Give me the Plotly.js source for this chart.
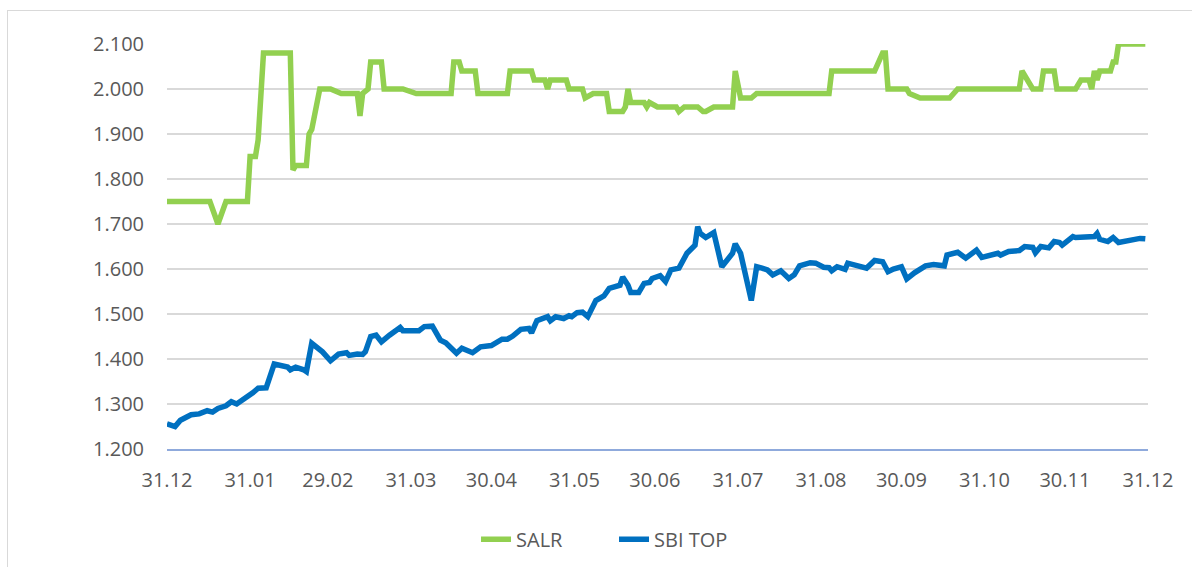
<!DOCTYPE html>
<html>
<head>
<meta charset="utf-8">
<script src="https://cdn.plot.ly/plotly-3.0.1.min.js"></script>
<style>
html,body{margin:0;padding:0;background:#fff;}
#wrap{position:relative;width:1192px;height:567px;overflow:hidden;}
#chart{width:1192px;height:567px;}
#frame{position:absolute;left:7px;top:10px;width:1400px;height:800px;border:1.5px solid #D9D9D9;pointer-events:none;}
</style>
</head>
<body>
<div id="wrap"><div id="chart"></div><div id="frame"></div></div>
<script>
const salrDates = ["2023-12-31","2024-01-16","2024-01-19","2024-01-22","2024-01-30","2024-01-31","2024-02-02","2024-02-03","2024-02-05","2024-02-15","2024-02-16","2024-02-17","2024-02-21","2024-02-22","2024-02-23","2024-02-26","2024-03-01","2024-03-05","2024-03-11","2024-03-12","2024-03-13","2024-03-15","2024-03-16","2024-03-20","2024-03-21","2024-03-28","2024-04-02","2024-04-15","2024-04-16","2024-04-18","2024-04-19","2024-04-24","2024-04-25","2024-05-06","2024-05-07","2024-05-15","2024-05-16","2024-05-20","2024-05-21","2024-05-22","2024-05-28","2024-05-29","2024-06-03","2024-06-04","2024-06-07","2024-06-12","2024-06-13","2024-06-18","2024-06-19","2024-06-20","2024-06-21","2024-06-26","2024-06-27","2024-06-28","2024-07-01","2024-07-08","2024-07-09","2024-07-11","2024-07-16","2024-07-18","2024-07-19","2024-07-22","2024-07-29","2024-07-30","2024-08-01","2024-08-05","2024-08-07","2024-09-03","2024-09-04","2024-09-20","2024-09-23","2024-09-24","2024-09-25","2024-10-02","2024-10-03","2024-10-07","2024-10-18","2024-10-21","2024-11-13","2024-11-14","2024-11-18","2024-11-21","2024-11-22","2024-11-26","2024-11-27","2024-12-04","2024-12-06","2024-12-09","2024-12-10","2024-12-11","2024-12-12","2024-12-13","2024-12-17","2024-12-18","2024-12-19","2024-12-20","2024-12-30"];
const salrValues = [1750,1750,1700,1750,1750,1850,1850,1887,2080,2080,1820,1830,1830,1900,1910,2000,2000,1990,1990,1940,1990,2000,2060,2060,2000,2000,1990,1990,2060,2060,2040,2040,1990,1990,2040,2040,2020,2020,2000,2020,2020,2000,2000,1980,1990,1990,1950,1950,1960,2000,1970,1970,1960,1970,1960,1960,1950,1960,1960,1950,1950,1960,1960,2040,1980,1980,1990,1990,2040,2040,2080,2080,2000,2000,1990,1980,1980,2000,2000,2040,2000,2000,2040,2040,2000,2000,2020,2020,2000,2040,2020,2040,2040,2060,2060,2100,2100];

const sbiDates = ["2023-12-31","2024-01-03","2024-01-05","2024-01-09","2024-01-12","2024-01-15","2024-01-17","2024-01-19","2024-01-22","2024-01-24","2024-01-26","2024-01-30","2024-02-01","2024-02-03","2024-02-06","2024-02-09","2024-02-12","2024-02-14","2024-02-15","2024-02-17","2024-02-20","2024-02-21","2024-02-23","2024-02-27","2024-03-01","2024-03-04","2024-03-07","2024-03-08","2024-03-11","2024-03-13","2024-03-14","2024-03-16","2024-03-18","2024-03-20","2024-03-23","2024-03-26","2024-03-27","2024-03-28","2024-04-01","2024-04-03","2024-04-05","2024-04-08","2024-04-11","2024-04-13","2024-04-17","2024-04-19","2024-04-23","2024-04-26","2024-04-30","2024-05-04","2024-05-06","2024-05-08","2024-05-11","2024-05-14","2024-05-15","2024-05-17","2024-05-21","2024-05-22","2024-05-24","2024-05-27","2024-05-29","2024-05-30","2024-06-01","2024-06-03","2024-06-05","2024-06-08","2024-06-11","2024-06-13","2024-06-17","2024-06-18","2024-06-20","2024-06-21","2024-06-24","2024-06-26","2024-06-28","2024-06-29","2024-07-02","2024-07-04","2024-07-06","2024-07-09","2024-07-12","2024-07-15","2024-07-16","2024-07-17","2024-07-19","2024-07-22","2024-07-25","2024-07-27","2024-07-29","2024-07-30","2024-08-01","2024-08-05","2024-08-07","2024-08-09","2024-08-11","2024-08-13","2024-08-16","2024-08-19","2024-08-21","2024-08-23","2024-08-27","2024-08-29","2024-09-01","2024-09-03","2024-09-04","2024-09-06","2024-09-09","2024-09-10","2024-09-13","2024-09-17","2024-09-20","2024-09-23","2024-09-25","2024-09-27","2024-09-30","2024-10-02","2024-10-05","2024-10-09","2024-10-12","2024-10-16","2024-10-17","2024-10-21","2024-10-24","2024-10-28","2024-10-30","2024-11-05","2024-11-06","2024-11-09","2024-11-13","2024-11-15","2024-11-18","2024-11-19","2024-11-21","2024-11-24","2024-11-26","2024-11-28","2024-11-29","2024-12-03","2024-12-04","2024-12-08","2024-12-11","2024-12-12","2024-12-13","2024-12-16","2024-12-18","2024-12-20","2024-12-24","2024-12-28","2024-12-30"];
const sbiValues = [1256,1250,1264,1276,1278,1285,1282,1290,1296,1305,1300,1315,1325,1335,1336,1389,1383,1382,1376,1382,1376,1372,1435,1416,1396,1411,1414,1408,1411,1410,1416,1450,1453,1438,1453,1466,1470,1463,1463,1463,1472,1473,1442,1436,1413,1424,1414,1427,1430,1444,1444,1451,1466,1468,1458,1485,1494,1485,1494,1490,1496,1494,1503,1504,1494,1530,1540,1557,1564,1582,1564,1548,1548,1568,1570,1579,1585,1572,1598,1602,1635,1653,1694,1679,1670,1681,1605,1622,1635,1656,1635,1530,1605,1602,1598,1587,1596,1579,1587,1607,1614,1613,1604,1603,1596,1605,1599,1613,1609,1602,1619,1616,1594,1600,1605,1578,1592,1607,1610,1607,1631,1637,1624,1642,1626,1635,1631,1639,1641,1650,1648,1636,1650,1647,1661,1659,1653,1672,1670,1672,1672,1679,1666,1661,1670,1659,1664,1668,1667];

const monthEnds = ["2023-12-31","2024-01-31","2024-02-29","2024-03-31","2024-04-30","2024-05-31","2024-06-30","2024-07-31","2024-08-31","2024-09-30","2024-10-31","2024-11-30","2024-12-31"];
const yTicks = [1200,1300,1400,1500,1600,1700,1800,1900,2000,2100];
const seriesNames = ["SALR","SBI TOP"];

const font = {family:"Open Sans, sans-serif", size:20, color:"#595959"};

const traces = [
  {x: salrDates, y: salrValues, name: seriesNames[0], type:"scatter", mode:"lines",
   line:{color:"#92D050", width:5.5, shape:"linear"}},
  {x: sbiDates, y: sbiValues, name: seriesNames[1], type:"scatter", mode:"lines",
   line:{color:"#0070C0", width:5.5, shape:"linear"}}
];

const layout = {
  width:1192, height:567,
  margin:{l:167, r:44, t:44, b:118, pad:0, autoexpand:false},
  paper_bgcolor:"rgba(0,0,0,0)", plot_bgcolor:"rgba(0,0,0,0)",
  separators:",.",
  font: font,
  showlegend:true,
  legend:{orientation:"h", x:0.315, xanchor:"left", yref:"container", y:0.049, yanchor:"middle",
          font:font, entrywidth:93, bgcolor:"rgba(0,0,0,0)"},
  xaxis:{type:"date", range:["2023-12-31","2024-12-31"], tickvals:monthEnds, tickformat:"%d.%m",
         showgrid:false, zeroline:false, showline:true, linecolor:"#8FAADC", linewidth:1.5,
         ticks:"", ticklabelstandoff:12, tickfont:font, fixedrange:true},
  yaxis:{range:[1200,2100], tickvals:yTicks, tickformat:",d", showgrid:true, gridcolor:"#D9D9D9",
         gridwidth:1.5, zeroline:false, showline:false, ticks:"", ticklabelstandoff:22,
         tickfont:font, fixedrange:true}
};

Plotly.newPlot("chart", traces, layout, {staticPlot:true, displayModeBar:false});
</script>
</body>
</html>
